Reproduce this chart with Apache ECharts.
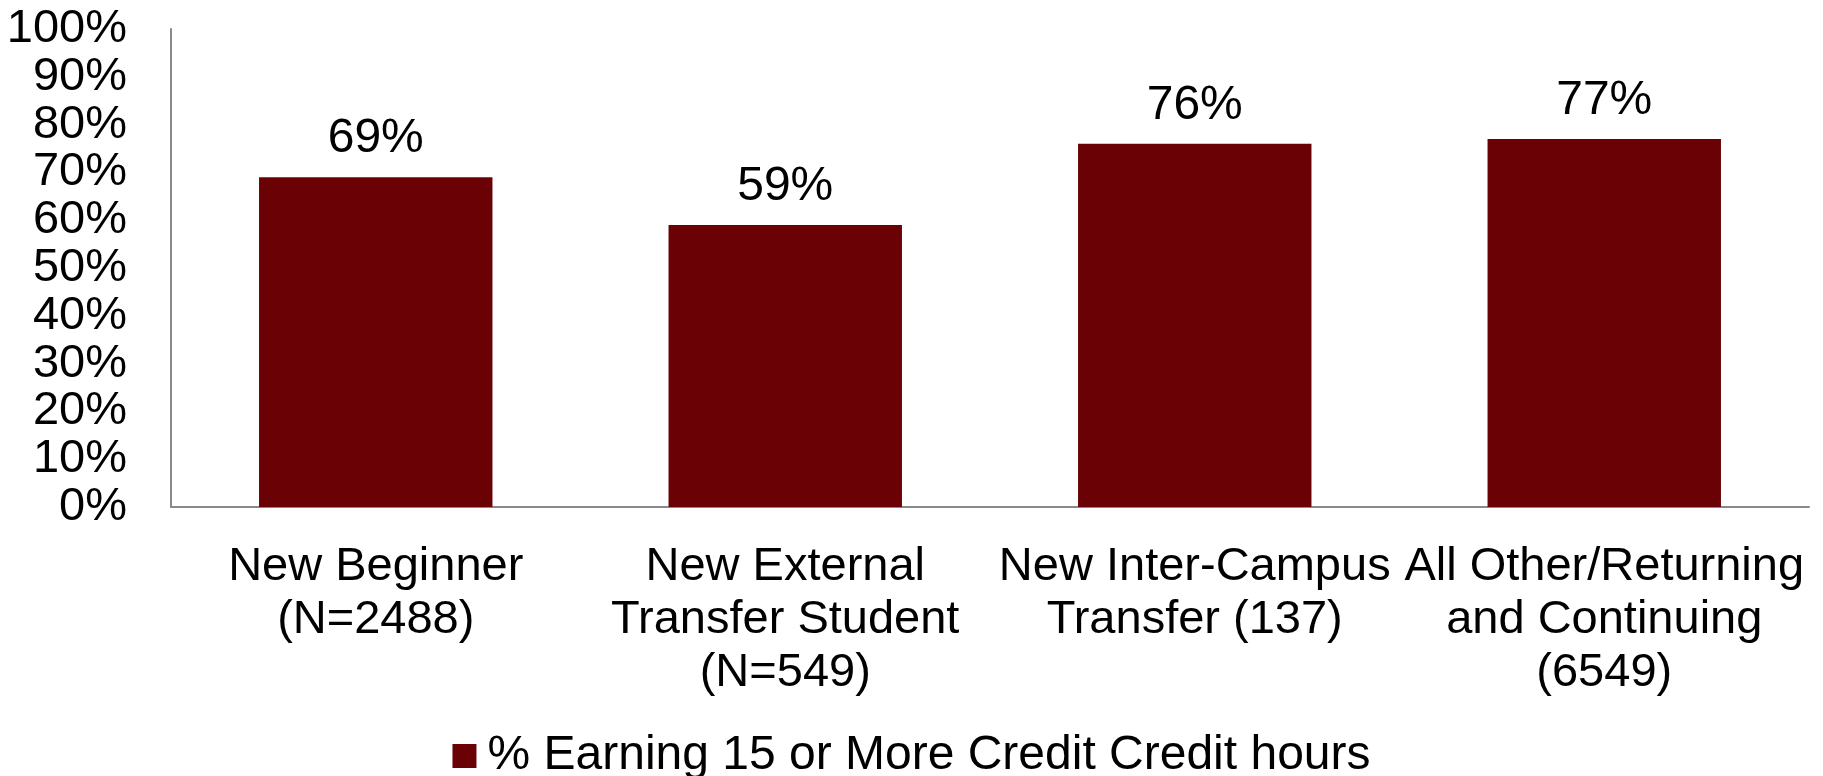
<!DOCTYPE html>
<html>
<head>
<meta charset="utf-8">
<script src="https://cdn.jsdelivr.net/npm/echarts@6/dist/echarts.min.js"></script>
<style>
  html, body { margin: 0; padding: 0; background: #fff; }
  #chart { width: 1823px; height: 776px; }
</style>
</head>
<body>
<div id="chart"></div>
<script>
// categories (line breaks as in the original)
var categories = [
  'New Beginner\n(N=2488)',
  'New External\nTransfer Student\n(N=549)',
  'New Inter-Campus\nTransfer (137)',
  'All Other/Returning\nand Continuing\n(6549)'
]
var seriesName = '% Earning 15 or More Credit Credit hours'
var values = [69, 59, 76, 77]
var yTicks = { min: 0, max: 100, interval: 10 }

var font = '"Liberation Sans", Arial, sans-serif'
var barColor = '#6A0205'
var axisColor = '#898989'

var myChart = echarts.init(document.getElementById('chart'))
var option = {
  backgroundColor: '#fff',
  animation: false,
  textStyle: { fontFamily: font },
  grid: {
    left: 171,
    right: 14,
    top: 29,
    bottom: 269
  },
  legend: {
    data: [seriesName],
    top: 727,
    left: 'center',
    itemWidth: 24,
    itemHeight: 24,
    icon: 'rect',
    textStyle: {
      fontFamily: font,
      fontSize: 48,
      color: '#000',
      padding: [0, 0, 0, 6]
    }
  },
  xAxis: {
    type: 'category',
    data: categories,
    axisLine: { show: true, lineStyle: { color: axisColor, width: 2 } },
    axisTick: { show: false },
    axisLabel: {
      interval: 0,
      color: '#000',
      fontFamily: font,
      fontSize: 47,
      lineHeight: 53,
      margin: 34
    }
  },
  yAxis: {
    type: 'value',
    min: yTicks.min,
    max: yTicks.max,
    interval: yTicks.interval,
    splitLine: { show: false },
    axisTick: { show: false },
    axisLine: { show: true, lineStyle: { color: axisColor, width: 2 } },
    axisLabel: {
      color: '#000',
      fontFamily: font,
      fontSize: 47,
      margin: 44,
      formatter: '{value}%'
    }
  },
  series: [{
    name: seriesName,
    type: 'bar',
    data: values,
    barWidth: '57%',
    itemStyle: { color: barColor },
    label: {
      show: true,
      position: 'top',
      distance: 14,
      color: '#000',
      fontFamily: font,
      fontSize: 48,
      formatter: '{c}%'
    }
  }]
}
myChart.setOption(option, true)
</script>
</body>
</html>
